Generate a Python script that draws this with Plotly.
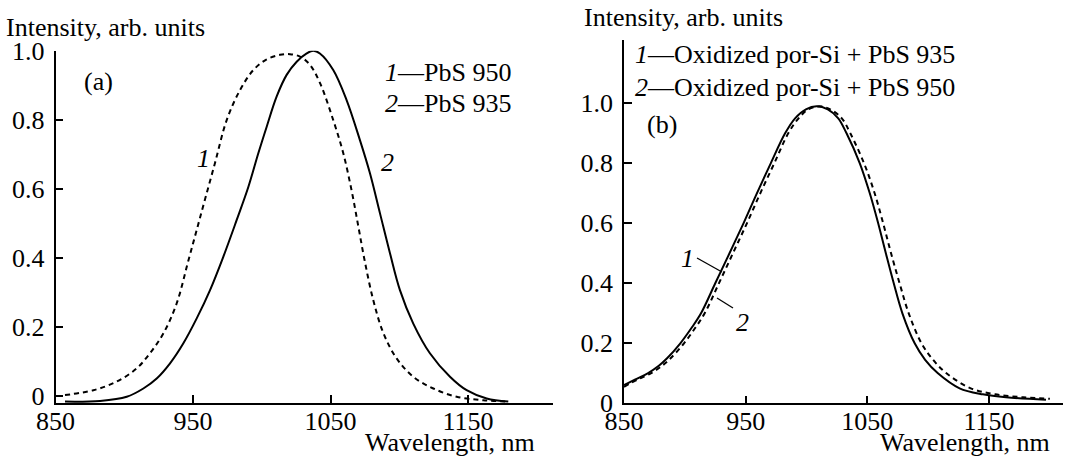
import plotly.graph_objects as go

W, H = 1069, 457

# ---- Panel (a) data ----
a_x1 = [856.9, 877.5, 894.5, 909.0, 918.7, 928.4, 938.1, 946.6, 952.7, 958.7, 966.0, 974.5,
        984.2, 993.9, 1003.6, 1013.3, 1020.5, 1027.8, 1035.1, 1042.4, 1052.0, 1059.3, 1065.4,
        1070.3, 1075.0, 1081.1, 1088.4, 1098.1, 1110.2, 1124.8, 1141.8, 1161.2, 1179.3]
a_y1 = [0.003, 0.017, 0.042, 0.080, 0.124, 0.181, 0.268, 0.392, 0.481, 0.569, 0.675, 0.799,
        0.886, 0.944, 0.975, 0.988, 0.990, 0.983, 0.959, 0.906, 0.799, 0.703, 0.594,
        0.490, 0.389, 0.278, 0.183, 0.109, 0.056, 0.022, -0.002, -0.012, -0.016]
a_x2 = [856.9, 882.4, 901.8, 913.9, 923.6, 933.3, 943.0, 952.7, 962.4, 972.1, 981.8, 990.3,
        997.5, 1003.6, 1010.8, 1018.1, 1025.4, 1032.7, 1037.5, 1042.3, 1052.0, 1061.7, 1071.4,
        1078.7, 1086.0, 1093.3, 1100.5, 1110.2, 1122.3, 1136.9, 1149.0, 1163.6, 1179.3]
a_y2 = [-0.016, -0.014, -0.002, 0.022, 0.051, 0.095, 0.153, 0.225, 0.307, 0.404, 0.510, 0.606,
        0.703, 0.780, 0.867, 0.930, 0.968, 0.992, 1.0, 0.992, 0.944, 0.857, 0.741,
        0.645, 0.529, 0.413, 0.307, 0.210, 0.124, 0.056, 0.017, -0.007, -0.016]

# ---- Panel (b) data ----
b_x1 = [850.0, 859.4, 869.5, 878.6, 885.4, 896.3, 905.3, 913.3, 925.0, 936.7, 948.2, 959.2,
        970.6, 982.4, 990.6, 999.5, 1008.3, 1017.5, 1026.1, 1032.9, 1043.8, 1052.0, 1058.9,
        1065.2, 1071.7, 1078.8, 1088.9, 1097.5, 1108.0, 1125.8, 1144.9, 1164.0, 1196.8]
b_y1 = [0.061, 0.080, 0.100, 0.125, 0.150, 0.200, 0.250, 0.300, 0.400, 0.500, 0.600, 0.700,
        0.800, 0.900, 0.950, 0.980, 0.990, 0.980, 0.950, 0.900, 0.800, 0.700, 0.600,
        0.500, 0.400, 0.300, 0.200, 0.145, 0.100, 0.050, 0.030, 0.020, 0.012]
b_x2 = [850.0, 861.5, 872.0, 881.3, 888.3, 899.3, 908.3, 916.3, 928.0, 939.5, 951.0, 962.0,
        973.5, 985.0, 993.5, 1001.5, 1010.5, 1019.5, 1029.0, 1036.0, 1047.3, 1056.0, 1063.0,
        1069.5, 1076.5, 1084.0, 1094.5, 1104.0, 1115.0, 1135.0, 1155.0, 1178.0, 1200.0]
b_y2 = [0.055, 0.080, 0.100, 0.125, 0.150, 0.200, 0.250, 0.300, 0.400, 0.500, 0.600, 0.700,
        0.800, 0.900, 0.950, 0.980, 0.990, 0.980, 0.950, 0.900, 0.800, 0.700, 0.600,
        0.500, 0.400, 0.300, 0.200, 0.145, 0.100, 0.050, 0.030, 0.020, 0.015]

x_ticks = [850, 950, 1050, 1150]
y_ticks = [0, 0.2, 0.4, 0.6, 0.8, 1.0]
y_ticktext = ["0", "0.2", "0.4", "0.6", "0.8", "1.0"]

FONT = "Liberation Serif, Times New Roman, serif"
FS = 26

fig = go.Figure()
line_kw = dict(color="black", width=2, shape="spline", smoothing=1.0)
fig.add_trace(go.Scatter(x=a_x1, y=a_y1, mode="lines", line=dict(dash="5px,4px", **line_kw),
                         xaxis="x", yaxis="y", showlegend=False, hoverinfo="skip"))
fig.add_trace(go.Scatter(x=a_x2, y=a_y2, mode="lines", line=dict(**line_kw),
                         xaxis="x", yaxis="y", showlegend=False, hoverinfo="skip"))
fig.add_trace(go.Scatter(x=b_x2, y=b_y2, mode="lines", line=dict(dash="5px,4px", **line_kw),
                         xaxis="x2", yaxis="y2", showlegend=False, hoverinfo="skip"))
fig.add_trace(go.Scatter(x=b_x1, y=b_y1, mode="lines", line=dict(**line_kw),
                         xaxis="x2", yaxis="y2", showlegend=False, hoverinfo="skip"))

def px(x):
    return x / W

def py(y):
    return 1 - y / H

axis_common = dict(showgrid=False, zeroline=False, showline=True, linecolor="black", linewidth=1.5,
                   ticks="inside", ticklen=8, tickwidth=1.5, tickcolor="black", automargin=False,
                   tickfont=dict(family=FONT, size=FS, color="black"))

fig.update_layout(
    width=W, height=H,
    margin=dict(l=0, r=0, t=0, b=0),
    paper_bgcolor="white", plot_bgcolor="white",
    font=dict(family=FONT, size=FS, color="black"),
    xaxis=dict(domain=[px(55.5), px(552.7)], range=[850, 1211.6], tickvals=x_ticks,
               anchor="y", ticklabelstandoff=-6, **axis_common),
    yaxis=dict(domain=[py(403), py(50.7)], range=[-0.02, 1.0], tickvals=y_ticks,
               ticktext=y_ticktext, anchor="x", ticklabelstandoff=4, **axis_common),
    xaxis2=dict(domain=[px(624), px(1063)], range=[850, 1210.8], tickvals=x_ticks,
                anchor="y2", ticklabelstandoff=-6, **axis_common),
    yaxis2=dict(domain=[py(403.3), py(40)], range=[0, 1.211], tickvals=y_ticks,
                ticktext=y_ticktext, anchor="x2", ticklabelstandoff=4, **axis_common),
)

def ann(text, x, y, xanchor="left", yanchor="middle", **kw):
    fig.add_annotation(text=text, x=px(x), y=py(y), xref="paper", yref="paper",
                       xanchor=xanchor, yanchor=yanchor, showarrow=False,
                       font=dict(family=FONT, size=FS, color="black"), **kw)

# Axis titles
ann("Intensity, arb. units", 4, 27)
ann("Intensity, arb. units", 582, 18)
ann("Wavelength, nm", 363, 442)
ann("Wavelength, nm", 878, 442)

# Panel (a) labels
ann("(a)", 82, 82)
ann("<i>1</i>—PbS 950", 383, 72)
ann("<i>2</i>—PbS 935", 383, 103)
ann("<i>1</i>", 203, 158, xanchor="center")
ann("<i>2</i>", 387, 163, xanchor="center")

# Panel (b) labels
ann("<i>1</i>—Oxidized por-Si + PbS 935", 633, 55)
ann("<i>2</i>—Oxidized por-Si + PbS 950", 633, 88)
ann("(b)", 645, 125)
ann("<i>1</i>", 687, 258, xanchor="center")
ann("<i>2</i>", 742, 322, xanchor="center")

# leader lines (panel b)
fig.add_shape(type="line", xref="paper", yref="paper", x0=px(697), y0=py(258), x1=px(722), y1=py(272),
              line=dict(color="black", width=1.3))
fig.add_shape(type="line", xref="paper", yref="paper", x0=px(717), y0=py(298), x1=px(733), y1=py(308),
              line=dict(color="black", width=1.3))

fig.write_html("out.html", config={"displayModeBar": False},
               post_script="document.body.style.margin='0';document.body.style.overflow='hidden';")
